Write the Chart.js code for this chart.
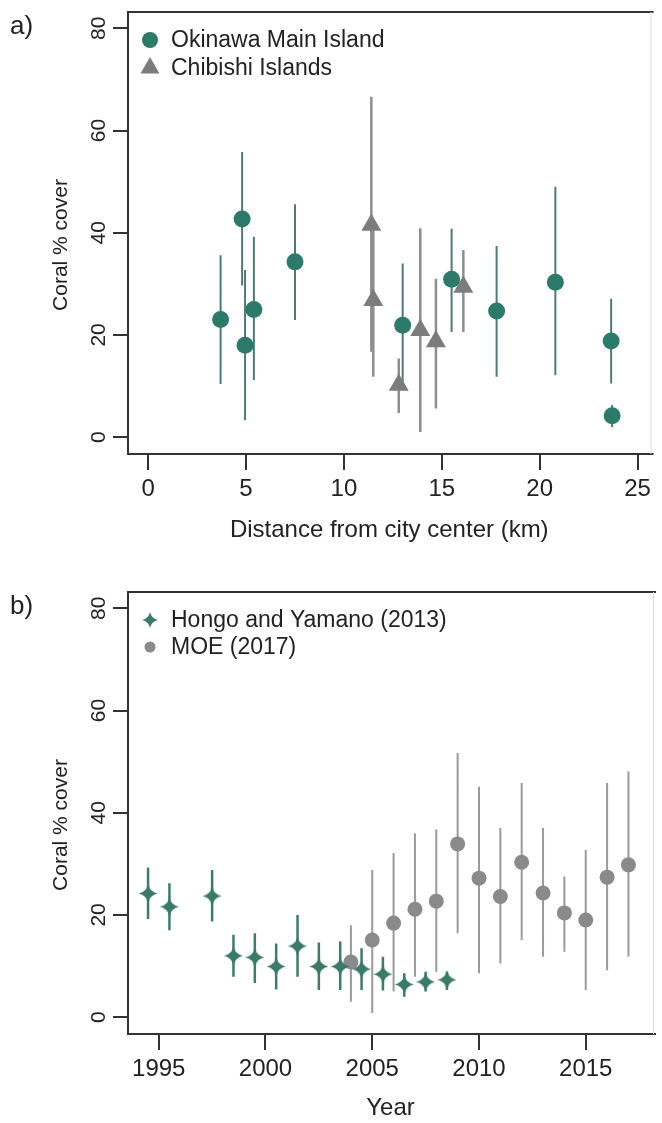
<!DOCTYPE html>
<html>
<head>
<meta charset="utf-8">
<script src="https://cdn.jsdelivr.net/npm/chart.js@4.4.1/dist/chart.umd.min.js"></script>
<style>
    html, body { margin: 0; padding: 0; background: #fff; overflow: hidden; }
    #wrap { position: relative; width: 662px; height: 1123px; }
    .panel { position: absolute; left: 0; width: 662px; }
    #panelA { top: 0; height: 561px; }
    #panelB { top: 561px; height: 562px; }
</style>
</head>
<body>
<div id="wrap">
    <div class="panel" id="panelA"><canvas id="chartA"></canvas></div>
    <div class="panel" id="panelB"><canvas id="chartB"></canvas></div>
</div>
<script>
// ---- data: panel a (coral cover vs distance) ----
const distTicks = [0, 5, 10, 15, 20, 25];
const coverTicks = [0, 20, 40, 60, 80];

const distOkinawa  = [3.7, 4.8, 4.95, 5.4, 7.5, 13.0, 15.5, 17.8, 20.8, 23.65, 23.7];
const coverOkinawa = [23.0, 42.7, 18.0, 25.0, 34.3, 21.9, 30.9, 24.7, 30.3, 18.8, 4.2];
const lowOkinawa   = [10.4, 29.7, 3.3, 11.2, 22.9, 10.0, 20.6, 11.8, 12.1, 10.5, 2.0];
const highOkinawa  = [35.6, 55.8, 32.7, 39.2, 45.6, 34.0, 40.8, 37.4, 49.0, 27.1, 6.3];

const distChibishi  = [11.4, 11.5, 12.8, 13.9, 14.7, 16.1];
const coverChibishi = [41.5, 26.8, 10.2, 20.9, 18.7, 29.4];
const lowChibishi   = [16.7, 11.8, 4.7, 1.0, 5.6, 20.6];
const highChibishi  = [66.6, 40.5, 15.4, 40.9, 31.0, 36.6];

// ---- data: panel b (coral cover by year) ----
const yearTicks = [1995, 2000, 2005, 2010, 2015];

const yearHongo  = [1994.5, 1995.5, 1997.5, 1998.5, 1999.5, 2000.5, 2001.5, 2002.5, 2003.5, 2004.5, 2005.5, 2006.5, 2007.5, 2008.5];
const coverHongo = [24.2, 21.6, 23.7, 12.0, 11.7, 9.9, 13.9, 9.9, 9.9, 9.4, 8.4, 6.4, 6.9, 7.3];
const lowHongo   = [19.2, 17.0, 18.7, 7.9, 6.7, 5.4, 7.9, 5.3, 5.3, 5.3, 5.2, 4.0, 5.0, 5.3];
const highHongo  = [29.3, 26.2, 28.8, 16.1, 16.4, 14.4, 20.0, 14.6, 14.8, 13.5, 11.8, 8.6, 8.9, 8.9];

const yearMOE  = [2004, 2005, 2006, 2007, 2008, 2009, 2010, 2011, 2012, 2013, 2014, 2015, 2016, 2017];
const coverMOE = [10.8, 15.1, 18.4, 21.1, 22.7, 33.9, 27.2, 23.6, 30.3, 24.3, 20.4, 19.0, 27.4, 29.8];
const lowMOE   = [3.0, 0.8, 5.0, 7.9, 8.9, 16.4, 8.6, 10.5, 15.1, 11.8, 12.8, 5.3, 9.2, 11.8];
const highMOE  = [18.0, 28.8, 32.1, 36.0, 36.7, 51.7, 45.1, 37.0, 45.8, 37.0, 27.5, 32.7, 45.8, 48.1];

// ---- styling ----
const FONT = "'Liberation Sans', Arial, Helvetica, sans-serif";
const TEXT = '#222';
const AXIS = '#333';
const TEAL = '#2d7a6b';
const TEAL_BAR = '#4f7a72';
const GREY = '#7c7c7c';
const GREY_BAR = '#8e8e8e';
const MOE_GREY = '#8a8a8a';

function toPoints(xs, ys) {
    return xs.map((x, i) => ({ x: x, y: ys[i] }));
}

// vertical error bars as one broken line (null breaks the segments)
function errorSegments(xs, lows, highs) {
    const pts = [];
    xs.forEach((x, i) => {
        pts.push({ x: x, y: lows[i] }, { x: x, y: highs[i] }, { x: x, y: null });
    });
    return pts;
}

// Stata-like diamond with slightly concave sides
function makeDiamond(size, color) {
    const c = document.createElement('canvas');
    c.width = size; c.height = size;
    const g = c.getContext('2d');
    const h = size / 2, k = size * 0.09;
    g.fillStyle = color;
    g.beginPath();
    g.moveTo(h, 0);
    g.quadraticCurveTo(h + k, h - k, size, h);
    g.quadraticCurveTo(h + k, h + k, h, size);
    g.quadraticCurveTo(h - k, h + k, 0, h);
    g.quadraticCurveTo(h - k, h - k, h, 0);
    g.fill();
    return c;
}
const diamondMark = makeDiamond(19, '#3b7a69');
const diamondLegend = makeDiamond(16, '#3b7a69');

function drawMarker(ctx, kind, x, y, r, color) {
    ctx.fillStyle = color;
    ctx.beginPath();
    if (kind === 'circle') {
        ctx.arc(x, y, r, 0, Math.PI * 2);
    } else if (kind === 'triangle') {
        ctx.moveTo(x, y - r);
        ctx.lineTo(x + r * 0.866, y + r * 0.5);
        ctx.lineTo(x - r * 0.866, y + r * 0.5);
        ctx.closePath();
    }
    ctx.fill();
}

function panelDecor(cfg) {
    return {
        id: 'panelDecor',
        afterDraw(chart) {
            const { ctx, chartArea: a, scales } = chart;
            ctx.save();

            // plot frame
            ctx.strokeStyle = AXIS;
            ctx.lineWidth = 2;
            ctx.beginPath();
            ctx.moveTo(a.right + 3, a.top);
            ctx.lineTo(a.left, a.top);
            ctx.lineTo(a.left, a.bottom);
            ctx.lineTo(a.right + 3, a.bottom);
            ctx.stroke();
            ctx.strokeStyle = '#dcdcdc';
            ctx.lineWidth = 1;
            ctx.beginPath();
            ctx.moveTo(a.right + 0.5, a.top);
            ctx.lineTo(a.right + 0.5, a.bottom);
            ctx.stroke();

            // rotated y tick labels
            ctx.fillStyle = TEXT;
            ctx.font = '21px ' + FONT;
            ctx.textAlign = 'center';
            ctx.textBaseline = 'alphabetic';
            coverTicks.forEach(v => {
                const py = scales.y.getPixelForValue(v);
                ctx.save();
                ctx.translate(105, py);
                ctx.rotate(-Math.PI / 2);
                ctx.fillText(String(v), 0, 0);
                ctx.restore();
            });

            // y axis title
            ctx.save();
            ctx.translate(67, (a.top + a.bottom) / 2 + 12);
            ctx.rotate(-Math.PI / 2);
            ctx.fillText('Coral % cover', 0, 0);
            ctx.restore();

            // panel letter
            ctx.textAlign = 'left';
            ctx.font = '26px ' + FONT;
            ctx.fillText(cfg.letter, 10, a.top + 22);

            // legend inside the plot
            ctx.font = '23px ' + FONT;
            ctx.textBaseline = 'middle';
            cfg.legend.forEach(item => {
                const y = a.top + item.dy;
                if (item.image) {
                    ctx.drawImage(item.image, 150 - item.image.width / 2, y - item.image.height / 2);
                } else {
                    drawMarker(ctx, item.kind, 150, y, item.r, item.color);
                }
                ctx.fillStyle = TEXT;
                ctx.fillText(item.text, 171, y + 1);
            });
            ctx.restore();
        }
    };
}

function fixedTicks(values) {
    return function (scale) {
        scale.ticks = values.map(v => ({ value: v }));
    };
}

function baseOptions(o) {
    return {
        responsive: true,
        maintainAspectRatio: false,
        animation: false,
        events: [],
        layout: { padding: { top: o.top, left: 0, right: 3, bottom: 0 } },
        plugins: { legend: { display: false }, tooltip: { enabled: false } },
        elements: { line: { tension: 0, borderCapStyle: 'butt' } },
        scales: {
            x: {
                type: 'linear',
                min: o.xMin,
                max: o.xMax,
                afterBuildTicks: fixedTicks(o.xTicks),
                afterFit: s => { s.height = o.xHeight; },
                border: { display: false },
                grid: { drawOnChartArea: false, drawTicks: true, tickLength: 16, color: AXIS, lineWidth: 2 },
                ticks: {
                    color: TEXT, padding: 5, autoSkip: false, maxRotation: 0,
                    font: { family: FONT, size: 24 },
                    callback: value => String(value)
                },
                title: {
                    display: true, text: o.xTitle, color: TEXT,
                    font: { family: FONT, size: 24 },
                    padding: { top: 0, bottom: o.titlePad }
                }
            },
            y: {
                type: 'linear',
                min: -3.3,
                max: 83.2,
                afterBuildTicks: fixedTicks(coverTicks),
                afterFit: s => { s.width = 128; },
                border: { display: false },
                grid: { drawOnChartArea: false, drawTicks: true, tickLength: 15, color: AXIS, lineWidth: 2 },
                ticks: { display: false }
            }
        }
    };
}

// ---- panel a ----
new Chart(document.getElementById('chartA'), {
    type: 'scatter',
    data: {
        datasets: [
            {
                label: 'Okinawa Main Island',
                data: toPoints(distOkinawa, coverOkinawa),
                pointStyle: 'circle', pointRadius: 8.5, pointBorderWidth: 0,
                backgroundColor: TEAL
            },
            {
                label: 'Chibishi Islands',
                data: toPoints(distChibishi, coverChibishi),
                pointStyle: 'triangle', pointRadius: 11.5, pointBorderWidth: 0,
                backgroundColor: GREY
            },
            {
                label: 'Okinawa range',
                data: errorSegments(distOkinawa, lowOkinawa, highOkinawa),
                showLine: true, spanGaps: false, pointRadius: 0,
                borderColor: TEAL_BAR, borderWidth: 2
            },
            {
                label: 'Chibishi range',
                data: errorSegments(distChibishi, lowChibishi, highChibishi),
                showLine: true, spanGaps: false, pointRadius: 0,
                borderColor: GREY_BAR, borderWidth: 2.5
            }
        ]
    },
    options: baseOptions({
        top: 12, xMin: -1.03, xMax: 25.66, xTicks: distTicks, xHeight: 107,
        xTitle: 'Distance from city center (km)', titlePad: 16
    }),
    plugins: [panelDecor({
        letter: 'a)',
        legend: [
            { kind: 'circle', r: 8, color: TEAL, text: 'Okinawa Main Island', dy: 28 },
            { kind: 'triangle', r: 11, color: GREY, text: 'Chibishi Islands', dy: 56 }
        ]
    })]
});

// ---- panel b ----
new Chart(document.getElementById('chartB'), {
    type: 'scatter',
    data: {
        datasets: [
            {
                label: 'Hongo and Yamano (2013)',
                data: toPoints(yearHongo, coverHongo),
                pointStyle: diamondMark, pointRadius: 9, pointBorderWidth: 0
            },
            {
                label: 'MOE (2017)',
                data: toPoints(yearMOE, coverMOE),
                pointStyle: 'circle', pointRadius: 7.5, pointBorderWidth: 0,
                backgroundColor: MOE_GREY
            },
            {
                label: 'Hongo range',
                data: errorSegments(yearHongo, lowHongo, highHongo),
                showLine: true, spanGaps: false, pointRadius: 0,
                borderColor: '#3f7b6d', borderWidth: 2.5
            },
            {
                label: 'MOE range',
                data: errorSegments(yearMOE, lowMOE, highMOE),
                showLine: true, spanGaps: false, pointRadius: 0,
                borderColor: '#9a9a9a', borderWidth: 2
            }
        ]
    },
    options: baseOptions({
        top: 31, xMin: 1993.56, xMax: 2018.15, xTicks: yearTicks, xHeight: 89,
        xTitle: 'Year', titlePad: 0
    }),
    plugins: [panelDecor({
        letter: 'b)',
        legend: [
            { image: diamondLegend, text: 'Hongo and Yamano (2013)', dy: 28 },
            { kind: 'circle', r: 5.5, color: MOE_GREY, text: 'MOE (2017)', dy: 55 }
        ]
    })]
});
</script>
</body>
</html>
